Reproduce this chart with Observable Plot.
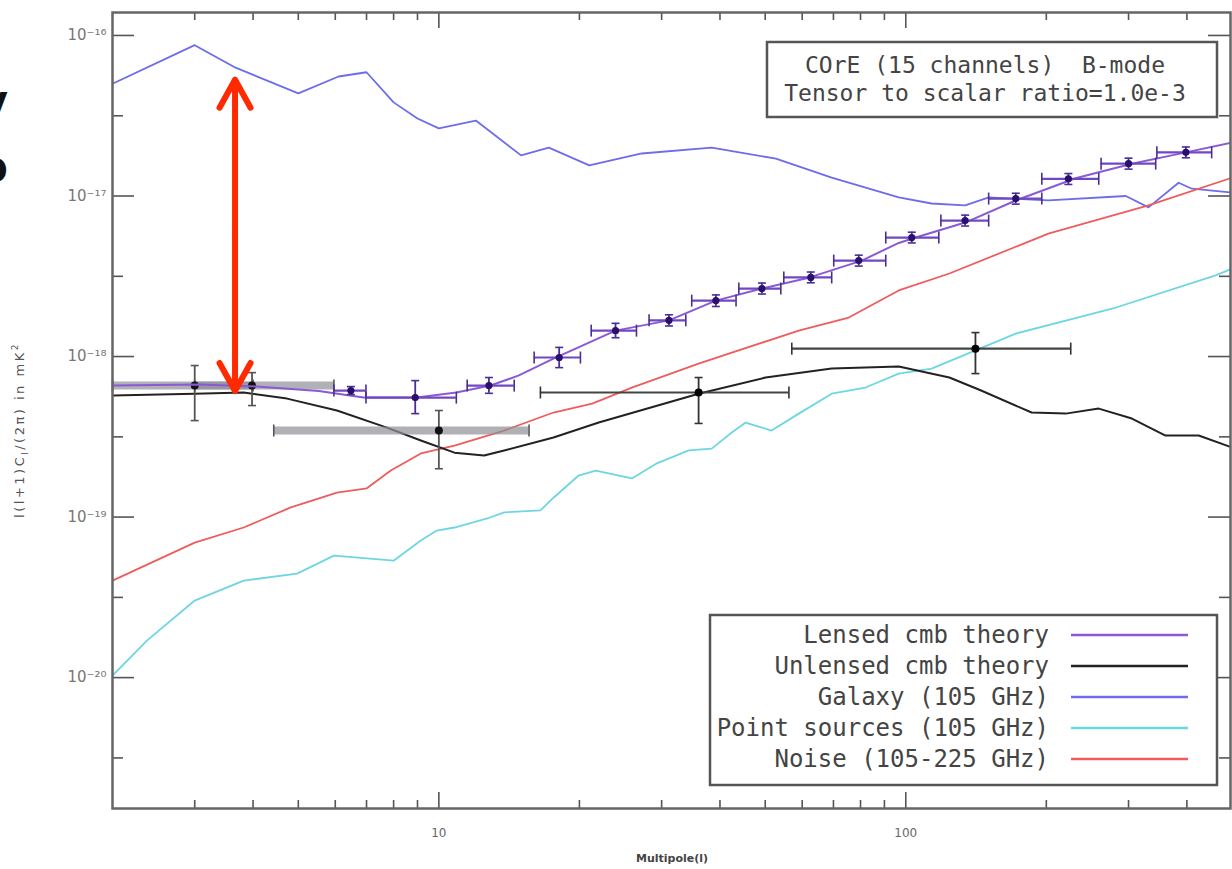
<!DOCTYPE html>
<html><head><meta charset="utf-8">
<script src="https://cdn.jsdelivr.net/npm/d3@7"></script>
<script src="https://cdn.jsdelivr.net/npm/@observablehq/plot@0.6"></script>
<style>
html,body{margin:0;padding:0;background:#fff;}
#wrap{position:relative;width:1232px;height:869px;overflow:hidden;background:#fff;}
</style></head><body><div id="wrap"></div>
<script>
// ---------------- data ----------------
const xDomain = [2, 496];
const yDomain = [1.53e-21, 1.39e-16];
const xMajorTicks = [10, 100];
const xMinorTicks = [3,4,5,6,7,8,9,20,30,40,50,60,70,80,90,200,300,400];
const yMajorTicks = [1e-16, 1e-17, 1e-18, 1e-19, 1e-20];
const yMinorTicks = [3.16e-17, 3.16e-18, 3.16e-19, 3.16e-20, 3.16e-21];

const galaxyL = [2,3,3.67,5,6.1,7,8,9,10,12,15,17.2,21,27.2,38.4,52.7,69.4,96.6,113.6,134,150.6,202,296,331,384,410,500];
const galaxyV = [5.0e-17,8.7e-17,6.3e-17,4.36e-17,5.55e-17,5.9e-17,3.83e-17,3.04e-17,2.64e-17,2.95e-17,1.79e-17,2.0e-17,1.55e-17,1.84e-17,2.0e-17,1.71e-17,1.30e-17,9.8e-18,8.98e-18,8.73e-18,9.8e-18,9.4e-18,1.0e-17,8.5e-18,1.21e-17,1.11e-17,1.05e-17];

const lensedL = [2,3.06,4.07,5.53,6.9,8.97,10.9,12.9,14.8,17.6,23.9,31.1,39.2,49.2,62,80.5,96.6,105,134,172,231,305,398,500];
const lensedV = [6.59e-19,6.7e-19,6.5e-19,6.1e-19,5.55e-19,5.55e-19,5.97e-19,6.6e-19,7.6e-19,9.7e-19,1.45e-18,1.68e-18,2.23e-18,2.65e-18,3.1e-18,3.96e-18,5.1e-18,5.51e-18,6.83e-18,9.37e-18,1.29e-17,1.59e-17,1.87e-17,2.15e-17];

const unlensedL = [2,3,3.82,4.73,6.05,7.74,9.15,10.8,12.5,13.8,17.6,22,36,50.1,69.4,96.6,124,145,186,220,259,305,360,424,500];
const unlensedV = [5.71e-19,5.87e-19,5.97e-19,5.47e-19,4.61e-19,3.61e-19,3.0e-19,2.52e-19,2.42e-19,2.6e-19,3.13e-19,3.88e-19,5.87e-19,7.4e-19,8.41e-19,8.67e-19,7.4e-19,6.14e-19,4.48e-19,4.41e-19,4.74e-19,4.11e-19,3.22e-19,3.22e-19,2.71e-19];

const noiseL = [2,3,3.82,4.82,6.05,7.01,7.89,9.15,10.8,13.8,17.6,21.3,25.9,36,59,75.5,96.6,124,202,331,500];
const noiseV = [4.02e-20,6.93e-20,8.61e-20,1.15e-19,1.42e-19,1.51e-19,1.95e-19,2.49e-19,2.79e-19,3.46e-19,4.48e-19,5.09e-19,6.41e-19,9.04e-19,1.45e-18,1.75e-18,2.58e-18,3.29e-18,5.83e-18,8.73e-18,1.30e-17];

const psL = [2,2.37,3,3.82,4.97,5.96,8.01,9.15,9.9,10.8,12.7,13.8,16.5,17.6,19.9,21.7,25.9,29.2,34.3,38.4,42.4,45.4,51.6,59,69.4,82,96.6,113.6,172,282,461,500];
const psV = [1.03e-20,1.70e-20,3.02e-20,4.02e-20,4.44e-20,5.75e-20,5.36e-20,7.14e-20,8.24e-20,8.61e-20,9.8e-20,1.07e-19,1.10e-19,1.32e-19,1.81e-19,1.95e-19,1.74e-19,2.15e-19,2.60e-19,2.67e-19,3.36e-19,3.88e-19,3.46e-19,4.41e-19,5.87e-19,6.41e-19,7.83e-19,8.41e-19,1.39e-18,2.02e-18,3.20e-18,3.53e-18];

// binned lensed B-mode band powers
const lensBinL  = [6.48,8.9,12.8,18.1,23.9,31.1,39.2,49.2,62.6,79.3,103,134,172,223,300,398];
const lensBinLo = [5.96,6.98,11.5,16.0,21.2,28.2,34.8,43.9,54.8,70.1,90.6,118.9,150.5,195.6,262,345];
const lensBinHi = [6.98,10.9,14.5,20.1,26.5,33.8,43.3,54.0,69.4,90.6,117.7,150.5,195.6,259,343,452];
const lensBinV  = [6.14e-19,5.55e-19,6.59e-19,9.86e-19,1.45e-18,1.68e-18,2.23e-18,2.65e-18,3.11e-18,3.96e-18,5.51e-18,7.03e-18,9.64e-18,1.28e-17,1.59e-17,1.87e-17];
const lensBinErrLo = [5.8e-19,4.41e-19,5.9e-19,8.53e-19,1.31e-18,1.55e-18,2.05e-18,2.45e-18,2.88e-18,3.66e-18,5.1e-18,6.5e-18,8.9e-18,1.18e-17,1.47e-17,1.73e-17];
const lensBinErrHi = [6.5e-19,7.08e-19,7.4e-19,1.14e-18,1.61e-18,1.82e-18,2.42e-18,2.87e-18,3.36e-18,4.28e-18,5.95e-18,7.6e-18,1.04e-17,1.38e-17,1.72e-17,2.02e-17];

// low-l wide bins
const lowBinL  = [3, 3.98, 10];
const lowBinLo = [2, 3, 4.43];
const lowBinHi = [4, 5.96, 15.6];
const lowBinV  = [6.59e-19, 6.59e-19, 3.46e-19];
const lowBinErrLo = [3.99e-19, 4.95e-19, 2.0e-19];
const lowBinErrHi = [8.79e-19, 7.94e-19, 4.61e-19];

// tensor (unlensed) wide bins
const tensBinL  = [36, 141];
const tensBinLo = [16.5, 57];
const tensBinHi = [56.2, 225.6];
const tensBinV  = [5.97e-19, 1.12e-18];
const tensBinErrLo = [3.83e-19, 7.83e-19];
const tensBinErrHi = [7.4e-19, 1.41e-18];

// annotation arrow
const arrowL = [3.66];
const arrowTop = [5.3e-17];
const arrowBottom = [6.1e-19];

const legendLabels = ["Lensed cmb theory","Unlensed cmb theory","Galaxy (105 GHz)","Point sources (105 GHz)","Noise (105-225 GHz)"];
const titleLines = ["COrE (15 channels)  B-mode","Tensor to scalar ratio=1.0e-3"];
const xLabel = "Multipole(l)";

// ---------------- styles ----------------
const C = {lensed:"#8a5ad6", unlensed:"#222222", galaxy:"#6c6cec", ps:"#6dd6e2", noise:"#ee5c5c"};
const legendColors = [C.lensed, C.unlensed, C.galaxy, C.ps, C.noise];

const W = 1232, H = 869, mL = 112, mR = 2, mT = 12, mB = 61;
const plotW = W - mL - mR, plotH = H - mT - mB;

const series = (L, V) => L.map((l, i) => ({l, v: V[i]}));
const bins = (L, lo, hi, v, eLo, eHi) => L.map((l, i) => ({l, lo: lo[i], hi: hi[i], v: v[i], eLo: eLo[i], eHi: eHi[i]}));

const vCap = {draw(ctx, size){ const h = Math.sqrt(size/Math.PI); ctx.moveTo(0,-h); ctx.lineTo(0,h); }};
const hCap = {draw(ctx, size){ const h = Math.sqrt(size/Math.PI); ctx.moveTo(-h,0); ctx.lineTo(h,0); }};

function binMarks(rows, o){
  return [
    Plot.ruleY(rows, {y:"v", x1:"lo", x2:"hi", stroke:o.bar, strokeWidth:o.barWidth, strokeOpacity:o.barOpacity, clip:true}),
    Plot.dot(rows, {x:"lo", y:"v", symbol:vCap, r:o.capR, fill:"none", stroke:o.cap, strokeWidth:1.6}),
    Plot.dot(rows, {x:"hi", y:"v", symbol:vCap, r:o.capR, fill:"none", stroke:o.cap, strokeWidth:1.6}),
    Plot.ruleX(rows, {x:"l", y1:"eLo", y2:"eHi", stroke:o.cap, strokeWidth:1.8}),
    Plot.dot(rows, {x:"l", y:"eLo", symbol:hCap, r:4, fill:"none", stroke:o.cap, strokeWidth:1.6}),
    Plot.dot(rows, {x:"l", y:"eHi", symbol:hCap, r:4, fill:"none", stroke:o.cap, strokeWidth:1.6}),
    Plot.dot(rows, {x:"l", y:"v", r:o.dotR, fill:o.dot, stroke:null})
  ];
}

const supMap = {"-":"\u207B","0":"\u2070","1":"\u00B9","2":"\u00B2","3":"\u00B3","4":"\u2074","5":"\u2075","6":"\u2076","7":"\u2077","8":"\u2078","9":"\u2079"};
const powFmt = d => "10" + String(Math.round(Math.log10(d))).split("").map(c => supMap[c]).join("");

const arrowRows = arrowL.flatMap((x, i) => {
  const mid = Math.sqrt(arrowTop[i] * arrowBottom[i]);
  return [{x, y1: mid, y2: arrowTop[i]}, {x, y1: mid, y2: arrowBottom[i]}];
});

const tickStroke = "#555";
const chart = Plot.plot({
  width: W, height: H,
  marginLeft: mL, marginRight: mR, marginTop: mT, marginBottom: mB,
  x: {type: "log", domain: xDomain, axis: null},
  y: {type: "log", domain: yDomain, axis: null},
  style: {background: "white", fontFamily: "DejaVu Sans"},
  marks: [
    Plot.axisY(yMajorTicks, {anchor: "left", tickSize: 0, tickPadding: 6, tickFormat: powFmt, fontSize: 15, color: "#777", label: null}),
    Plot.axisX(xMajorTicks, {anchor: "bottom", tickSize: 0, tickPadding: 20, tickFormat: d => String(d), fontSize: 12, color: "#666", label: null}),
    Plot.line(series(galaxyL, galaxyV), {x: "l", y: "v", stroke: C.galaxy, strokeWidth: 1.8, clip: true}),
    Plot.line(series(psL, psV), {x: "l", y: "v", stroke: C.ps, strokeWidth: 1.8, clip: true}),
    Plot.line(series(noiseL, noiseV), {x: "l", y: "v", stroke: C.noise, strokeWidth: 1.8, clip: true}),
    Plot.line(series(unlensedL, unlensedV), {x: "l", y: "v", stroke: C.unlensed, strokeWidth: 2, clip: true}),
    ...binMarks(bins(lowBinL, lowBinLo, lowBinHi, lowBinV, lowBinErrLo, lowBinErrHi), {bar: "#8f8f98", barWidth: 8, barOpacity: 0.7, cap: "#555", capR: 6, dot: "#111", dotR: 4}),
    Plot.line(series(lensedL, lensedV), {x: "l", y: "v", stroke: C.lensed, strokeWidth: 2, clip: true}),
    ...binMarks(bins(tensBinL, tensBinLo, tensBinHi, tensBinV, tensBinErrLo, tensBinErrHi), {bar: "#444", barWidth: 2.2, barOpacity: 1, cap: "#333", capR: 6, dot: "#000", dotR: 4}),
    ...binMarks(bins(lensBinL, lensBinLo, lensBinHi, lensBinV, lensBinErrLo, lensBinErrHi), {bar: "#7048c0", barWidth: 2.2, barOpacity: 1, cap: "#4a2e96", capR: 6, dot: "#2a0f6e", dotR: 3.6}),
    // inward ticks on all four sides
    Plot.ruleX(xMajorTicks, {x: d => d, insetTop: plotH - 16, stroke: tickStroke, strokeWidth: 1.6}),
    Plot.ruleX(xMinorTicks, {x: d => d, insetTop: plotH - 8, stroke: tickStroke, strokeWidth: 1.6}),
    Plot.ruleX(xMajorTicks, {x: d => d, insetBottom: plotH - 16, stroke: tickStroke, strokeWidth: 1.6}),
    Plot.ruleX(xMinorTicks, {x: d => d, insetBottom: plotH - 8, stroke: tickStroke, strokeWidth: 1.6}),
    Plot.ruleY(yMajorTicks, {y: d => d, insetRight: plotW - 22, stroke: tickStroke, strokeWidth: 1.6}),
    Plot.ruleY(yMinorTicks, {y: d => d, insetRight: plotW - 11, stroke: tickStroke, strokeWidth: 1.6}),
    Plot.ruleY(yMajorTicks, {y: d => d, insetLeft: plotW - 22, stroke: tickStroke, strokeWidth: 1.6}),
    Plot.ruleY(yMinorTicks, {y: d => d, insetLeft: plotW - 11, stroke: tickStroke, strokeWidth: 1.6}),
    Plot.frame({stroke: "#666", strokeWidth: 2.5}),
    Plot.arrow(arrowRows, {x1: "x", y1: "y1", x2: "x", y2: "y2", stroke: "#ff2a00", strokeWidth: 6, headLength: 8, headAngle: 58, strokeLinecap: "round", strokeLinejoin: "round"})
  ]
});

document.getElementById("wrap").appendChild(chart);
const svg = d3.select(chart);
const mono = "'DejaVu Sans Mono', monospace";

// title box
const tb = svg.append("g");
tb.append("rect").attr("x", 767).attr("y", 42).attr("width", 450).attr("height", 75)
  .attr("fill", "white").attr("stroke", "#555").attr("stroke-width", 2.5);
titleLines.forEach((t, i) => {
  tb.append("text").attr("x", 985).attr("y", 73 + i * 28).attr("text-anchor", "middle")
    .attr("font-family", mono).attr("font-size", 23).attr("fill", "#444")
    .style("white-space", "pre").text(t);
});

// legend box
const lg = svg.append("g");
lg.append("rect").attr("x", 710).attr("y", 615).attr("width", 507).attr("height", 170)
  .attr("fill", "white").attr("stroke", "#555").attr("stroke-width", 2.5);
legendLabels.forEach((t, i) => {
  const cy = 635 + i * 31;
  lg.append("text").attr("x", 1049).attr("y", cy + 8).attr("text-anchor", "end")
    .attr("font-family", mono).attr("font-size", 24).attr("fill", "#444").text(t);
  lg.append("line").attr("x1", 1071).attr("x2", 1188).attr("y1", cy).attr("y2", cy)
    .attr("stroke", legendColors[i]).attr("stroke-width", 2.6);
});

// axis titles
svg.append("text").attr("x", 672).attr("y", 862).attr("text-anchor", "middle")
  .attr("font-family", "DejaVu Sans").attr("font-size", 11).attr("font-weight", "bold").attr("fill", "#444").text(xLabel);
const yl = svg.append("text").attr("transform", "translate(24,430) rotate(-90)").attr("text-anchor", "middle")
  .attr("font-family", "DejaVu Sans").attr("font-size", 13).attr("letter-spacing", 2.5).attr("fill", "#555");
yl.append("tspan").text("l(l+1)C");
yl.append("tspan").attr("font-size", 9).attr("dy", 4).text("l");
yl.append("tspan").attr("dy", -4).text("/(2\u03C0) in mK");
yl.append("tspan").attr("font-size", 9).attr("dy", -6).text("2");

// clipped slide text at the left edge
svg.append("text").attr("x", 8).attr("y", 114).attr("text-anchor", "end").attr("font-family", "DejaVu Sans")
  .attr("font-weight", "bold").attr("font-size", 40).attr("fill", "#111").text("y");
svg.append("text").attr("x", 8).attr("y", 181).attr("text-anchor", "end").attr("font-family", "DejaVu Sans")
  .attr("font-weight", "bold").attr("font-size", 40).attr("fill", "#111").text("b");
</script></body></html>
